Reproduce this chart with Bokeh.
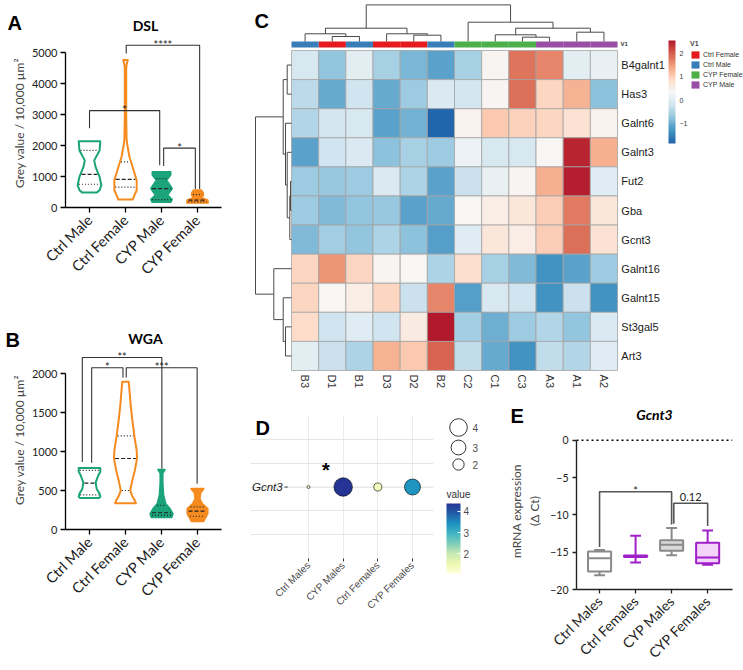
import numpy as np
from bokeh.plotting import figure
from bokeh.models import (Range1d, FixedTicker, ColumnDataSource,
                          LinearColorMapper, ColorBar, Legend, LegendItem, Span)
from bokeh.layouts import row, column
from bokeh.embed import file_html
from bokeh.resources import INLINE
from bokeh.core.properties import value
from bokeh.palettes import YlGnBu9

# ======================= DATA =======================
violin_groups = ["Ctrl Male", "Ctrl Female", "CYP Male", "CYP Female"]

# DSL violins: outline levels (top -> bottom) and relative density (half width, category units)
dsl_ctrl_male_y = [2140, 2000, 1840, 1520, 1300, 985, 720, 560, 480]
dsl_ctrl_male_d = [0.30, 0.29, 0.28, 0.13, 0.17, 0.28, 0.33, 0.28, 0.20]
dsl_ctrl_female_y = [4760, 4650, 4500, 3000, 2200, 2050, 1630, 1300, 880, 557, 400, 257]
dsl_ctrl_female_d = [0.065, 0.037, 0.019, 0.019, 0.03, 0.046, 0.11, 0.20, 0.31, 0.31, 0.25, 0.20]
dsl_cyp_male_y = [1145, 1050, 880, 610, 400, 260, 180]
dsl_cyp_male_d = [0.25, 0.25, 0.14, 0.29, 0.16, 0.29, 0.26]
dsl_cyp_female_y = [560, 480, 400, 320, 240, 150]
dsl_cyp_female_d = [0.10, 0.15, 0.16, 0.10, 0.28, 0.29]
dsl_quartiles = [[750, 1070, 1840], [660, 910, 1470], [257, 610, 930], [180, 236, 418]]
# brackets: x0, x1, top, left end, right end, label
dsl_brackets = [(1.0, 2.95, 3126, 2560, 1360, "*"),
                (2.02, 4.06, 5236, 4968, 600, "****"),
                (3.06, 3.94, 1917, 1340, 600, "*")]

wga_ctrl_male_y = [788, 740, 700, 600, 520, 460, 420, 403]
wga_ctrl_male_d = [0.30, 0.30, 0.25, 0.17, 0.20, 0.28, 0.30, 0.26]
wga_ctrl_female_y = [1893, 1786, 1615, 1400, 1186, 1015, 908, 758, 630, 501, 437, 373, 335]
wga_ctrl_female_d = [0.09, 0.11, 0.14, 0.19, 0.25, 0.31, 0.32, 0.26, 0.19, 0.13, 0.18, 0.26, 0.29]
wga_cyp_male_y = [767, 720, 600, 450, 330, 266, 201, 158]
wga_cyp_male_d = [0.09, 0.03, 0.03, 0.05, 0.11, 0.23, 0.31, 0.28]
wga_cyp_female_y = [522, 470, 394, 330, 266, 201, 137, 107]
wga_cyp_female_d = [0.17, 0.08, 0.06, 0.13, 0.28, 0.28, 0.20, 0.17]
wga_quartiles = [[445, 595, 758], [500, 910, 1200], [180, 215, 310], [170, 235, 290]]
wga_brackets = [(0.80, 3.01, 2205, 865, 780, "**"),
                (1.06, 1.93, 2073, 857, 1949, "*"),
                (2.02, 3.99, 2073, 1949, 587, "***")]

# Heatmap (row-scaled expression)
hm_samples = ["B3", "D1", "B1", "D3", "D2", "B2", "C2", "C1", "C3", "A3", "A1", "A2"]
hm_sample_group = ["Ctrl Male", "Ctrl Female", "Ctrl Male", "Ctrl Female", "Ctrl Female", "Ctrl Male",
                   "CYP Female", "CYP Female", "CYP Female", "CYP Male", "CYP Male", "CYP Male"]
hm_genes = ["B4galnt1", "Has3", "Galnt6", "Galnt3", "Fut2", "Gba", "Gcnt3",
            "Galnt16", "Galnt15", "St3gal5", "Art3"]
z_B4galnt1 = [-0.10, -0.75, 0.05, -0.55, -0.90, -1.15, -0.55, 0.40, 1.85, 1.70, 0.05, 0.15]
z_Has3 = [-0.40, -1.05, -0.20, -1.05, -0.65, -0.05, -0.15, 0.40, 1.90, 0.95, 1.30, -0.80]
z_Galnt6 = [-0.45, -0.15, -0.10, -1.15, -0.95, -1.87, 0.45, 1.10, 1.00, 0.95, 0.75, 0.45]
z_Galnt3 = [-1.15, -0.20, -0.05, -0.80, -0.55, -0.65, 0.20, -0.10, -0.10, 0.35, 2.45, 1.35]
z_Fut2 = [-0.65, -0.70, -0.65, -0.05, -0.50, -1.15, -0.25, 0.15, 0.40, 1.35, 2.50, 0.00]
z_Gba = [-0.65, -0.85, -0.75, -0.70, -1.15, -1.05, 0.35, 0.55, 0.70, 1.05, 1.80, 0.70]
z_Gcnt3 = [-0.85, -0.60, -0.75, -0.50, -0.80, -1.20, 0.00, 0.70, 0.55, 1.05, 1.90, 0.75]
z_Galnt16 = [0.95, 1.55, 0.95, 0.40, 0.35, -0.50, 0.80, -0.55, -0.85, -1.30, -1.15, -0.65]
z_Galnt15 = [0.95, 0.35, 0.55, 0.95, -0.25, 1.70, -1.20, -0.10, -0.20, -1.30, -0.25, -1.30]
z_St3gal5 = [0.85, -0.20, 0.00, -0.20, 0.60, 2.57, -0.60, -1.00, -0.65, -0.45, -0.75, -0.05]
z_Art3 = [0.05, -0.25, -0.50, 1.30, 1.10, 1.95, -0.35, -1.05, -1.30, -0.35, -0.45, 0.00]
hm_legend_ticks = [-1, 0, 1, 2]
# dendrograms: merge pairs (node ids; new node ids follow leaves) and heights
col_link_a = [1, 0, 4, 3, 13, 8, 7, 10, 18, 6, 16]
col_link_b = [2, 12, 5, 14, 15, 9, 17, 11, 19, 20, 21]
col_link_h = [1.00, 1.54, 1.26, 1.54, 2.66, 0.86, 1.34, 1.86, 2.66, 3.86, 7.32]
row_link_a = [4, 11, 3, 2, 0, 15, 9, 8, 7, 16]
row_link_b = [5, 6, 12, 13, 1, 14, 10, 17, 18, 19]
row_link_h = [0.20, 0.34, 0.86, 1.20, 0.86, 1.66, 1.20, 1.66, 3.54, 7.20]
annot_groups = ["Ctrl Female", "Ctrl Male", "CYP Female", "CYP Male"]
annot_colors = ["#E41A1C", "#377EB8", "#4DAF4A", "#984EA3"]

# Panel D dot plot
d_groups = ["Ctrl Males", "CYP Males", "Ctrl Females", "CYP Females"]
d_values = [1.05, 4.38, 1.40, 3.39]
d_signif = ["", "*", "", ""]
d_size_legend = [4, 3, 2]
d_color_ticks = [2, 3, 4]

# Panel E box plot (Delta Ct)
e_groups = ["Ctrl Males", "Ctrl Females", "CYP Males", "CYP Females"]
e_min = [-18.1, -16.4, -15.4, -16.7]
e_q1 = [-17.6, -15.65, -14.8, -16.5]
e_med = [-15.8, -15.55, -14.0, -15.7]
e_q3 = [-14.9, -15.45, -13.4, -13.75]
e_max = [-14.7, -12.8, -11.75, -12.1]
e_brackets = [(1.0, 3.0, -6.9, -14.3, -11.3, "*"),
              (3.06, 4.0, -8.45, -11.2, -11.5, "0.12")]

# ======================= STYLE =======================
GREEN = "#1BA37A"
ORANGE = "#F58A1F"
SANS = "Liberation Sans"
PRISM = "Lato"


def no_align(p):
    try:
        p.frame_align = False
    except Exception:
        pass
    return p


def ramp(colors, n):
    rgb = np.array([[int(c[i:i + 2], 16) for i in (1, 3, 5)] for c in colors], float)
    t = np.linspace(0, 1, len(colors))
    tt = np.linspace(0, 1, n)
    out = np.stack([np.interp(tt, t, rgb[:, k]) for k in range(3)], 1)
    return ["#%02x%02x%02x" % tuple(int(round(v)) for v in r) for r in out]


def blank(width, height, xr, yr):
    p = figure(width=width, height=height, x_range=Range1d(*xr), y_range=Range1d(*yr),
               min_border=0, x_axis_location=None, y_axis_location=None,
               toolbar_location=None, output_backend="svg")
    p.grid.visible = False
    p.outline_line_color = None
    return no_align(p)


def header(width, height, items):
    # items: (text, x, center_from_top, size, font, style, align)
    p = blank(width, height, (0, width), (0, height))
    for txt, x, yc, size, font, style, align in items:
        p.text(x=[x], y=[height - yc], text=[txt], text_font=value(font), text_font_size=size,
               text_font_style=style, text_align=align, text_baseline="middle",
               text_color="black")
    return p


def draw_brackets(p, brackets, color, width, font_size):
    xs, ys, tx, ty, tt, off = [], [], [], [], [], []
    for x0, x1, top, l_end, r_end, lab in brackets:
        xs.append([x0, x0, x1, x1])
        ys.append([l_end, top, top, r_end])
        tx.append((x0 + x1) / 2)
        ty.append(top)
        tt.append(lab)
        off.append(-1 if set(lab) == {"*"} else -6)
    p.multi_line(xs=xs, ys=ys, line_color=color, line_width=width)
    p.text(x=tx, y=ty, text=tt, y_offset=off, text_font=value(PRISM), text_font_size=font_size,
           text_align="center", text_baseline="middle", text_color="#222222")


def violin_panel(height, mb_bottom, yend, ybound, yticks, profiles, quartiles, brackets):
    p = figure(width=248, height=height, x_range=Range1d(0.333, 4.667), y_range=Range1d(0, yend),
               min_border_left=65, min_border_right=27, min_border_top=0,
               min_border_bottom=mb_bottom, toolbar_location=None, output_backend="svg")
    no_align(p)
    p.grid.visible = False
    p.outline_line_color = None
    colors = [GREEN, ORANGE, GREEN, ORANGE]
    filled = [False, False, True, True]
    med_x0, med_x1, med_y, q_x0, q_x1, q_y = [], [], [], [], [], []
    for i, ((ys, ds), col, fl, qs) in enumerate(zip(profiles, colors, filled, quartiles)):
        c = i + 1
        xs = [c + d for d in ds] + [c - d for d in ds[::-1]]
        yy = list(ys) + list(ys[::-1])
        p.patch(xs, yy, fill_color=col if fl else "white", line_color=col, line_width=2,
                line_join="round")
        ya = np.array(ys[::-1], float)
        da = np.array(ds[::-1], float)
        for k, q in enumerate(qs):
            w = float(np.interp(q, ya, da)) - 0.03
            if k == 1:
                med_x0.append(c - w); med_x1.append(c + w); med_y.append(q)
            else:
                q_x0.append(c - w); q_x1.append(c + w); q_y.append(q)
    p.segment(x0=q_x0, x1=q_x1, y0=q_y, y1=q_y, line_color="#222222", line_width=1.2, line_dash="1 2")
    p.segment(x0=med_x0, x1=med_x1, y0=med_y, y1=med_y, line_color="#222222", line_width=1.2,
              line_dash="4 2")
    draw_brackets(p, brackets, "#333333", 1.1, "11px")
    p.xaxis.ticker = FixedTicker(ticks=[1, 2, 3, 4])
    p.xaxis.major_label_overrides = {i + 1: g for i, g in enumerate(violin_groups)}
    p.xaxis.major_label_orientation = np.pi / 4
    p.yaxis.ticker = FixedTicker(ticks=yticks)
    p.yaxis.bounds = (0, ybound)
    p.yaxis.axis_label = "Grey value / 10,000 µm²"
    p.yaxis.axis_label_text_font = PRISM
    p.yaxis.axis_label_text_font_size = "12px"
    p.yaxis.axis_label_text_font_style = "normal"
    p.yaxis.axis_label_standoff = 2
    for ax in (p.xaxis, p.yaxis):
        ax.axis_line_color = "black"
        ax.axis_line_width = 1.3
        ax.major_tick_line_color = "black"
        ax.major_tick_line_width = 1.3
        ax.major_tick_out = 5
        ax.major_tick_in = 0
        ax.minor_tick_line_color = None
        ax.major_label_text_font = PRISM
        ax.major_label_text_color = "#222222"
    p.xaxis.major_label_text_font_size = "14.5px"
    p.yaxis.major_label_text_font_size = "11px"
    p.yaxis.major_label_standoff = 3
    return p


# ---------------- Panels A and B ----------------
hdr_a = header(248, 38, [("A", 7, 22.5, "20px", SANS, "bold", "left"),
                         ("DSL", 145, 25, "14px", PRISM, "bold", "center")])
pa = violin_panel(252, 83, 5452, 5000, [0, 1000, 2000, 3000, 4000, 5000],
                  [(dsl_ctrl_male_y, dsl_ctrl_male_d), (dsl_ctrl_female_y, dsl_ctrl_female_d),
                   (dsl_cyp_male_y, dsl_cyp_male_d), (dsl_cyp_female_y, dsl_cyp_female_d)],
                  dsl_quartiles, dsl_brackets)
hdr_b = header(248, 60, [("B", 5, 49, "20px", SANS, "bold", "left"),
                         ("WGA", 145, 48, "14px", PRISM, "bold", "center")])
pb = violin_panel(320, 141, 2295, 2000, [0, 500, 1000, 1500, 2000],
                  [(wga_ctrl_male_y, wga_ctrl_male_d), (wga_ctrl_female_y, wga_ctrl_female_d),
                   (wga_cyp_male_y, wga_cyp_male_d), (wga_cyp_female_y, wga_cyp_female_d)],
                  wga_quartiles, wga_brackets)

# ---------------- Panel C: heatmap ----------------
pc = blank(495, 400, (-1.583, 16.636), (-1.031, 12.719))
zrows = [z_B4galnt1, z_Has3, z_Galnt6, z_Galnt3, z_Fut2, z_Gba, z_Gcnt3,
         z_Galnt16, z_Galnt15, z_St3gal5, z_Art3]
n_rows, n_cols = len(hm_genes), len(hm_samples)
hx, hy, hz = [], [], []
for r, zr in enumerate(zrows):
    for c, zv in enumerate(zr):
        hx.append(c + 0.5)
        hy.append(n_rows - 1 - r + 0.5)
        hz.append(zv)
rdbu = ["#2166AC", "#4393C3", "#92C5DE", "#D1E5F0", "#F7F7F7", "#FDDBC7", "#F4A582",
        "#D6604D", "#B2182B"]
hm_mapper = LinearColorMapper(palette=ramp(rdbu, 100), low=-1.87, high=2.57)
pc.rect(x="x", y="y", width=1, height=1, source=ColumnDataSource(dict(x=hx, y=hy, z=hz)),
        fill_color={"field": "z", "transform": hm_mapper}, line_color="#A3A3A3", line_width=0.8)

ANNOT_Y, ANNOT_H = 11.207, 0.206
annot_renderers = []
for g, colr in zip(annot_groups, annot_colors):
    xs = [c + 0.5 for c in range(n_cols) if hm_sample_group[c] == g]
    rr = pc.rect(x=xs, y=[ANNOT_Y] * len(xs), width=1, height=ANNOT_H, fill_color=colr,
                 line_color=None)
    annot_renderers.append(rr)


def dendro(n_leaves, la, lb, lh, leaf_pos):
    pos = {i: leaf_pos[i] for i in range(n_leaves)}
    hgt = {i: 0.0 for i in range(n_leaves)}
    segs = []
    for k, (a, b, h) in enumerate(zip(la, lb, lh)):
        segs += [(pos[a], hgt[a], pos[a], h), (pos[a], h, pos[b], h), (pos[b], h, pos[b], hgt[b])]
        pos[n_leaves + k] = (pos[a] + pos[b]) / 2
        hgt[n_leaves + k] = h
    return segs


COL_BASE = ANNOT_Y + ANNOT_H / 2
COL_SCALE = 5 / 29.09
csegs = dendro(n_cols, col_link_a, col_link_b, col_link_h, [c + 0.5 for c in range(n_cols)])
pc.segment(x0=[s[0] for s in csegs], y0=[COL_BASE + s[1] * COL_SCALE for s in csegs],
           x1=[s[2] for s in csegs], y1=[COL_BASE + s[3] * COL_SCALE for s in csegs],
           line_color="#4a4a4a", line_width=1)
ROW_SCALE = 5 / 27.17
rsegs = dendro(n_rows, row_link_a, row_link_b, row_link_h,
               [n_rows - 1 - r + 0.5 for r in range(n_rows)])
pc.segment(y0=[s[0] for s in rsegs], x0=[-s[1] * ROW_SCALE for s in rsegs],
           y1=[s[2] for s in rsegs], x1=[-s[3] * ROW_SCALE for s in rsegs],
           line_color="#4a4a4a", line_width=1)

pc.text(x=[n_cols + 0.14] * n_rows, y=[n_rows - 1 - r + 0.5 for r in range(n_rows)], text=hm_genes,
        text_font=value(SANS), text_font_size="11px", text_baseline="middle", text_align="left",
        text_color="#1a1a1a")
pc.text(x=[c + 0.5 for c in range(n_cols)], y=[-0.14] * n_cols, text=hm_samples, angle=-np.pi / 2,
        text_font=value(SANS), text_font_size="11px", text_baseline="middle", text_align="left",
        text_color="#333333")
pc.text(x=[n_cols + 0.11], y=[ANNOT_Y], text=["V1"], text_font=value(SANS), text_font_size="6px",
        text_font_style="bold", text_baseline="middle", text_align="left", text_color="#333333")
pc.text(x=[-1.362], y=[12.014], text=["C"], text_font=value(SANS), text_font_size="20px",
        text_font_style="bold", text_baseline="middle", text_align="left", text_color="black")
cb_c = ColorBar(color_mapper=hm_mapper, ticker=FixedTicker(ticks=hm_legend_ticks), width=7,
                height=103, location=(420, 257), padding=0, label_standoff=4,
                major_label_text_font=SANS, major_label_text_font_size="7px",
                major_label_text_color="#333333", major_tick_line_color=None,
                bar_line_color=None, border_line_color=None, background_fill_alpha=0)
pc.add_layout(cb_c)
leg_c = Legend(items=[LegendItem(label=g, renderers=[r]) for g, r in zip(annot_groups, annot_renderers)],
               location=(442, 311), title="V1", title_text_font=SANS, title_text_font_size="7px",
               title_text_font_style="bold", title_standoff=2, label_text_font=SANS,
               label_text_font_size="7px", label_text_color="#333333", label_height=10,
               glyph_height=9, glyph_width=10, spacing=0, padding=0, margin=0, label_standoff=3,
               border_line_color=None, background_fill_alpha=0)
pc.add_layout(leg_c)

# ---------------- Panel D: dot plot ----------------
d_vmin, d_vmax = min(d_values), max(d_values)


def dot_size(v):
    return 3 + 15.5 * np.sqrt(max(v - d_vmin, 0) / (d_vmax - d_vmin))


ylgnbu = ramp(list(YlGnBu9[1:])[::-1], 256)
d_mapper = LinearColorMapper(palette=ylgnbu, low=d_vmin, high=d_vmax)
pd_ = figure(width=192, height=270, x_range=Range1d(-0.673, 4.606), y_range=Range1d(0.4, 1.6),
             min_border_left=2, min_border_right=7, min_border_top=15, min_border_bottom=112,
             y_axis_location=None, toolbar_location=None, output_backend="svg")
no_align(pd_)
pd_.outline_line_color = None
pd_.xgrid.grid_line_color = "#EBEBEB"
pd_.xgrid.grid_line_width = 1
nd = len(d_groups)
# horizontal panel grid line for the single gene row (ggplot panel spans 0.4 .. n+0.6)
pd_.segment(x0=[0.4], x1=[nd + 0.6], y0=[1], y1=[1], line_color="#EBEBEB", line_width=1)
pd_.ray(x=[0.4], y=[1], length=3, length_units="screen", angle=np.pi, line_color="#333333",
        line_width=1)
pd_.text(x=[0.4], y=[1], text=["Gcnt3"], x_offset=-5, text_font=value(SANS), text_font_size="11.5px",
         text_font_style="italic", text_align="right", text_baseline="middle", text_color="#1a1a1a")
src_d = ColumnDataSource(dict(x=[i + 1 for i in range(nd)], y=[1] * nd,
                              v=d_values, s=[dot_size(v) for v in d_values]))
pd_.scatter(x="x", y="y", size="s", source=src_d, fill_color={"field": "v", "transform": d_mapper},
            line_color="black", line_width=0.6)
star_x = [i + 1 - 0.5 for i, s in enumerate(d_signif) if s]
pd_.text(x=star_x, y=[1.14] * len(star_x), text=[s for s in d_signif if s], text_font=value(SANS),
         text_font_size="20px", text_font_style="bold", text_align="center", text_baseline="middle",
         text_color="black")
pd_.text(x=[-0.529], y=[1.499], text=["D"], text_font=value(SANS), text_font_size="20px",
         text_font_style="bold", text_baseline="middle", text_align="left", text_color="black")
pd_.xaxis.ticker = FixedTicker(ticks=[i + 1 for i in range(nd)])
pd_.xaxis.major_label_overrides = {i + 1: g for i, g in enumerate(d_groups)}
pd_.xaxis.major_label_orientation = np.pi / 4
pd_.xaxis.major_label_text_font_size = "10px"
pd_.xaxis.major_label_text_color = "#4D4D4D"
pd_.xaxis.axis_line_color = None
pd_.xaxis.major_tick_out = 3
pd_.xaxis.major_tick_in = 0
pd_.xaxis.major_tick_line_color = "#333333"
pd_.xaxis.minor_tick_line_color = None
pd_.xaxis.major_label_text_font = SANS
pd_.xaxis.major_label_standoff = 2

pl = blank(65, 270, (0, 65), (0, 270))
leg_y = [270 - 27, 270 - 47, 270 - 64]
pl.scatter(x=[18] * 3, y=leg_y, size=[dot_size(v) for v in d_size_legend], fill_color="white",
           line_color="black", line_width=0.8)
pl.text(x=[32] * 3, y=leg_y, text=[str(v) for v in d_size_legend], text_font=value(SANS),
        text_font_size="10px", text_baseline="middle", text_color="#4D4D4D")
pl.text(x=[6], y=[270 - 94], text=["value"], text_font=value(SANS), text_font_size="10px",
        text_baseline="middle", text_align="left", text_color="#333333")
cb_d = ColorBar(color_mapper=d_mapper, ticker=FixedTicker(ticks=d_color_ticks), width=14, height=70,
                location=(6, 97), padding=0, orientation="vertical",
                label_standoff=3, major_label_text_font=SANS, major_label_text_font_size="10px",
                major_label_text_color="#4D4D4D", major_tick_line_color="white", major_tick_in=3,
                major_tick_out=0, bar_line_color=None, border_line_color=None, background_fill_alpha=0)
pl.add_layout(cb_d)

# ---------------- Panel E: box plot ----------------
hdr_e = header(238, 32, [("E", 5, 15, "20px", SANS, "bold", "left"),
                         ("Gcnt3", 149, 14, "14px", PRISM, "bold italic", "center")])
pe = figure(width=238, height=238, x_range=Range1d(0.36, 4.69), y_range=Range1d(-20, 1.03),
            min_border_left=71, min_border_right=11, min_border_top=0, min_border_bottom=75,
            toolbar_location=None, output_backend="svg")
no_align(pe)
pe.grid.visible = False
pe.outline_line_color = None
pe.add_layout(Span(location=0, dimension="width", line_color="black", line_width=1.5,
                   line_dash="2 3"))
GRAY = "#8A8A8A"
PURPLE = "#A020C8"
e_line = [GRAY, PURPLE, GRAY, PURPLE]
e_fill = ["white", "white", "#D9D9D9", "#F3D3F8"]
HALF, CAP = 0.32, 0.15
ex = [i + 1 for i in range(len(e_groups))]
pe.segment(x0=ex + ex, x1=ex + ex, y0=e_q3 + e_q1, y1=e_max + e_min, line_color=e_line + e_line,
           line_width=2)
pe.segment(x0=[x - CAP for x in ex + ex], x1=[x + CAP for x in ex + ex], y0=e_max + e_min,
           y1=e_max + e_min, line_color=e_line + e_line, line_width=2)
pe.quad(left=[x - HALF for x in ex], right=[x + HALF for x in ex], bottom=e_q1, top=e_q3,
        fill_color=e_fill, line_color=e_line, line_width=2)
pe.segment(x0=[x - HALF for x in ex], x1=[x + HALF for x in ex], y0=e_med, y1=e_med,
           line_color=e_line, line_width=2)
draw_brackets(pe, e_brackets, "#555555", 1.6, "11px")
pe.xaxis.ticker = FixedTicker(ticks=ex)
pe.xaxis.major_label_overrides = {i + 1: g for i, g in enumerate(e_groups)}
pe.xaxis.major_label_orientation = np.pi / 4
pe.yaxis.ticker = FixedTicker(ticks=[-20, -15, -10, -5, 0])
pe.yaxis.bounds = (-20, 0)
pe.yaxis.axis_label = "mRNA expression\n(Δ Ct)"
pe.yaxis.axis_label_text_font = PRISM
pe.yaxis.axis_label_text_font_size = "12px"
pe.yaxis.axis_label_text_font_style = "normal"
pe.yaxis.axis_label_standoff = 5
for ax in (pe.xaxis, pe.yaxis):
    ax.axis_line_color = "#222222"
    ax.axis_line_width = 1.4
    ax.major_tick_line_color = "#222222"
    ax.major_tick_line_width = 1.3
    ax.major_tick_out = 4
    ax.major_tick_in = 0
    ax.minor_tick_line_color = None
    ax.major_label_text_font = PRISM
    ax.major_label_text_color = "#222222"
pe.xaxis.major_label_text_font_size = "14px"
pe.yaxis.major_label_text_font_size = "10.5px"
pe.yaxis.major_label_standoff = 4

layout = row(column(hdr_a, pa, hdr_b, pb),
             column(pc, row(pd_, pl, column(hdr_e, pe))))
open("out.html", "w").write(file_html(layout, INLINE))
